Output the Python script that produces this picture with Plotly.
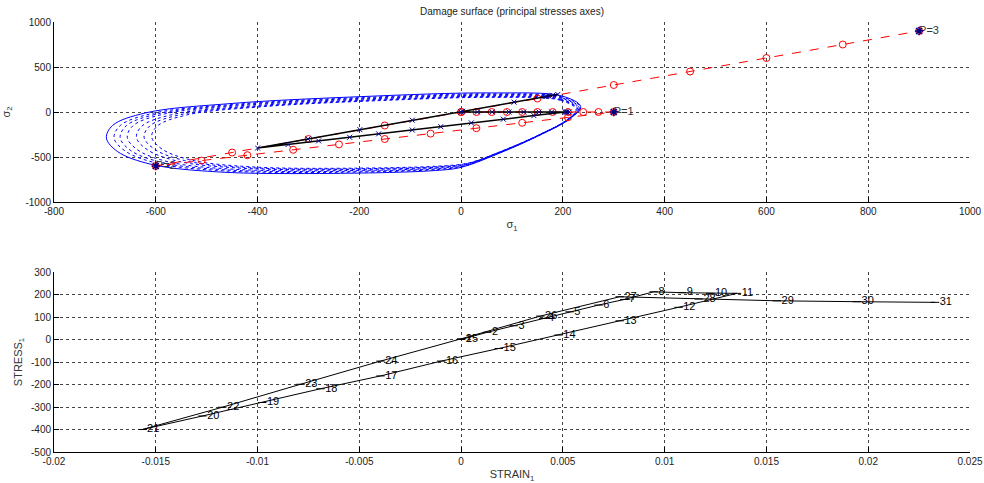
import plotly.graph_objects as go

# ---------------- top plot: principal stress space ----------------
# prescribed loading path (red dashed, circles): 0 -> P1 -> P2 -> P3
load_s1 = [0, 30, 60, 90, 120, 150, 180, 210, 240, 270, 300,
           210, 120, 30, -60, -150, -240, -330, -420, -510, -600,
           -450, -300, -150, 0, 150, 300, 450, 600, 750, 900]
load_s2 = [0, 0, 0, 0, 0, 0, 0, 0, 0, 0, 0,
           -60, -120, -180, -240, -300, -360, -420, -480, -540, -600,
           -450, -300, -150, 0, 150, 300, 450, 600, 750, 900]

# computed stress path (black, x markers)
path_s1 = [0, 32, 61, 94, 123, 153, 178, 212, 208, 205, 205,
           143, 83, 20, -40, -96, -162, -219, -280, -340, -400,
           -301, -199, -96, 3, 104, 190, 180, 172, 168, 165]
path_s2 = [0, 0, 0, 0, 0, 0, 0, 0, 0, 0, 0,
           -40, -80, -121, -163, -200, -243, -281, -321, -361, -400,
           -299, -196, -91, 8, 110, 195, 186, 178, 174, 171]

# load points
p_s1 = [300, -600, 900]
p_s2 = [0, -600, 900]
p_labels = ["P=1", "P=2", "P=3"]

# damage surfaces (outer one solid, the others dotted)
surf0_x = [235, 200, 60, -200, -450, -620, -685, -697, -675, -610, -480, -250, -50, 0, 70, 150, 215, 235]
surf0_y = [60, 175, 212, 170, 95, -10, -150, -290, -440, -580, -665, -682, -650, -615, -470, -270, -70, 60]
surf1_x = [234, 199, 62, -194, -439, -606, -670, -682, -660, -596, -469, -243, -46, 3, 71, 150, 214, 234]
surf1_y = [54, 166, 202, 161, 88, -15, -151, -288, -434, -571, -653, -670, -639, -605, -463, -268, -73, 54]
surf2_x = [232, 198, 63, -189, -431, -595, -658, -670, -649, -586, -460, -237, -44, 5, 73, 150, 213, 232]
surf2_y = [48, 158, 193, 153, 82, -19, -152, -286, -429, -563, -644, -660, -630, -596, -458, -267, -76, 48]
surf3_x = [231, 198, 64, -183, -421, -583, -645, -656, -635, -574, -450, -231, -40, 7, 74, 150, 212, 231]
surf3_y = [43, 151, 185, 146, 76, -22, -153, -284, -424, -555, -635, -651, -621, -588, -452, -265, -78, 43]
surf4_x = [229, 197, 66, -176, -408, -566, -627, -638, -617, -557, -436, -222, -36, 11, 76, 150, 210, 229]
surf4_y = [37, 141, 175, 137, 68, -27, -155, -282, -418, -546, -623, -639, -610, -578, -446, -264, -82, 37]
surf5_x = [228, 196, 68, -169, -397, -552, -612, -623, -602, -543, -425, -215, -32, 13, 77, 150, 209, 228]
surf5_y = [33, 136, 169, 131, 64, -30, -155, -281, -415, -540, -616, -631, -603, -571, -442, -263, -84, 33]
surf6_x = [226, 195, 69, -163, -387, -539, -597, -608, -588, -530, -414, -208, -29, 16, 78, 150, 208, 226]
surf6_y = [29, 130, 163, 126, 60, -33, -156, -279, -411, -534, -609, -624, -596, -565, -438, -262, -86, 29]

# ---------------- bottom plot: stress-strain ----------------
strain1 = [0, 0.00128, 0.00258, 0.00403, 0.00533, 0.00675, 0.00802, 0.00946, 0.01085, 0.01224, 0.01355,
           0.01068, 0.00779, 0.00479, 0.00185, -0.00098, -0.00396, -0.00691, -0.00977, -0.01271, -0.01566,
           -0.01173, -0.00789, -0.00396, 0.0, 0.00389, 0.00779, 0.01167, 0.01551, 0.01944, 0.02328]
stress1 = path_s1
step_labels = [str(i) for i in range(1, 32)]

# tick values and labels
top_xticks = [-800, -600, -400, -200, 0, 200, 400, 600, 800, 1000]
top_xtext = ["-800", "-600", "-400", "-200", "0", "200", "400", "600", "800", "1000"]
top_yticks = [-1000, -500, 0, 500, 1000]
top_ytext = ["-1000", "-500", "0", "500", "1000"]
bot_xticks = [-0.02, -0.015, -0.01, -0.005, 0, 0.005, 0.01, 0.015, 0.02, 0.025]
bot_xtext = ["-0.02", "-0.015", "-0.01", "-0.005", "0", "0.005", "0.01", "0.015", "0.02", "0.025"]
bot_yticks = [-500, -400, -300, -200, -100, 0, 100, 200, 300]
bot_ytext = ["-500", "-400", "-300", "-200", "-100", "0", "100", "200", "300"]

FONT = "Liberation Sans, Arial, sans-serif"
BLUE = "rgb(0,0,255)"
RED = "rgb(255,0,0)"

fig = go.Figure()

surfs = [(surf0_x, surf0_y), (surf1_x, surf1_y), (surf2_x, surf2_y), (surf3_x, surf3_y),
         (surf4_x, surf4_y), (surf5_x, surf5_y), (surf6_x, surf6_y)]
for i, (sx, sy) in enumerate(surfs):
    fig.add_trace(go.Scatter(
        x=sx, y=sy, mode="lines", xaxis="x", yaxis="y",
        line=dict(color=BLUE, width=1, dash="solid" if i == 0 else "dot", shape="spline", smoothing=1.0),
        showlegend=False, hoverinfo="skip"))

# P labels (under the lines)
fig.add_trace(go.Scatter(
    x=p_s1, y=p_s2, mode="text", text=p_labels, textposition="middle right",
    textfont=dict(family=FONT, size=11, color="#333"), xaxis="x", yaxis="y",
    showlegend=False, hoverinfo="skip"))

# loading path
fig.add_trace(go.Scatter(
    x=load_s1, y=load_s2, mode="lines+markers", xaxis="x", yaxis="y",
    line=dict(color=RED, width=1, dash="dash"),
    marker=dict(symbol="circle-open", size=7, color=RED, line=dict(width=1)),
    showlegend=False, hoverinfo="skip"))

# stress path
fig.add_trace(go.Scatter(
    x=path_s1, y=path_s2, mode="lines+markers", xaxis="x", yaxis="y",
    line=dict(color="black", width=1.5),
    marker=dict(symbol="x-thin-open", size=5, color="rgb(0,0,140)", line=dict(width=1, color="rgb(0,0,140)")),
    showlegend=False, hoverinfo="skip"))

# P markers
fig.add_trace(go.Scatter(
    x=p_s1, y=p_s2, mode="markers", xaxis="x", yaxis="y",
    marker=dict(symbol="asterisk-open", size=7, color="rgb(0,0,140)", line=dict(width=1.5, color="rgb(0,0,140)")),
    showlegend=False, hoverinfo="skip"))

# bottom: stress-strain curve with step numbers
fig.add_trace(go.Scatter(
    x=strain1, y=stress1, mode="lines", xaxis="x2", yaxis="y2",
    line=dict(color="black", width=1), showlegend=False, hoverinfo="skip"))
fig.add_trace(go.Scatter(
    x=strain1, y=stress1, mode="markers+text", xaxis="x2", yaxis="y2",
    text=step_labels, textposition="middle right",
    textfont=dict(family=FONT, size=11, color="black"),
    marker=dict(symbol="line-ew-open", size=6, color="black", line=dict(width=1, color="black")),
    showlegend=False, hoverinfo="skip"))

axis_common = dict(
    showgrid=True, gridcolor="#444", griddash="dot", gridwidth=1,
    zeroline=False, showline=True, linecolor="black", linewidth=1,
    ticks="inside", ticklen=5, tickcolor="black", mirror=False,
    tickfont=dict(family=FONT, size=10, color="#222"),
    automargin=False,
)

top_dom = [0.5814, 1.0]
bot_dom = [0.0, 0.4186]

fig.update_layout(
    width=984, height=483,
    margin=dict(l=54, r=14, t=22, b=31, autoexpand=False),
    paper_bgcolor="white", plot_bgcolor="white",
    hovermode=False,
    font=dict(family=FONT, size=10, color="#222"),
    xaxis=dict(domain=[0, 1], anchor="y", range=[-800, 1000], tickvals=top_xticks, ticktext=top_xtext,
               title=dict(text="σ<sub>1</sub>", font=dict(family=FONT, size=11, color="#333"), standoff=4),
               **axis_common),
    yaxis=dict(domain=top_dom, anchor="x", range=[-1000, 1000], tickvals=top_yticks, ticktext=top_ytext,
               title=dict(text="σ<sub>2</sub>", font=dict(family=FONT, size=11, color="#333"), standoff=12),
               **axis_common),
    xaxis2=dict(domain=[0, 1], anchor="y2", range=[-0.02, 0.025], tickvals=bot_xticks, ticktext=bot_xtext,
                title=dict(text="STRAIN<sub>1</sub>", font=dict(family=FONT, size=11, color="#333"), standoff=4),
                **axis_common),
    yaxis2=dict(domain=bot_dom, anchor="x2", range=[-500, 300], tickvals=bot_yticks, ticktext=bot_ytext,
                title=dict(text="STRESS<sub>1</sub>", font=dict(family=FONT, size=11, color="#333"), standoff=6),
                **axis_common),
    title=dict(text="Damage surface (principal stresses axes)", x=0.5, xref="paper",
               y=1 - 11 / 483, yref="container", yanchor="middle", xanchor="center",
               font=dict(family=FONT, size=10, color="#222")),
)

fig.write_html("out.html", config={"displayModeBar": False},
               post_script="document.body.style.margin='0';")
